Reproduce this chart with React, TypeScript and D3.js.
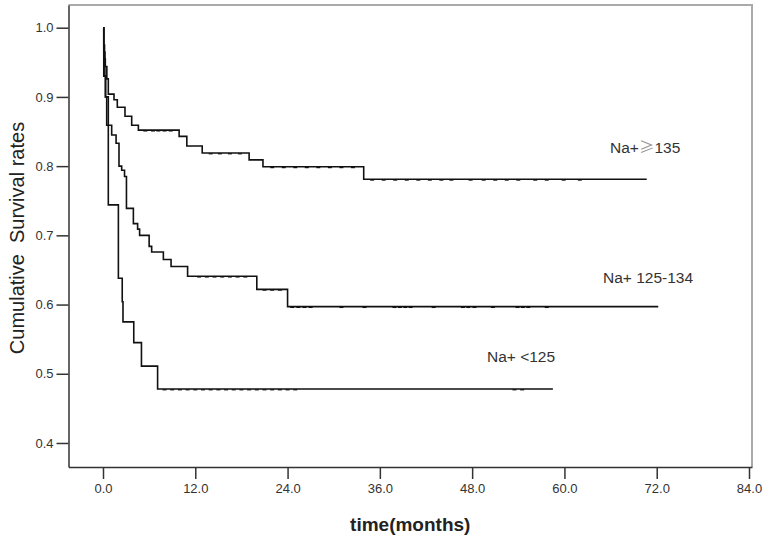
import React, { useEffect, useRef } from 'react';
import * as d3 from 'd3';

// Kaplan-Meier steps (time in months, survival)
const highTimes = [0, 0.1, 0.2, 0.3, 0.5, 0.69, 1.43, 1.86, 2.86, 3.73, 4.6, 9.9, 10.9, 12.9, 19.0, 20.8, 33.9];
const highSurv = [1.0, 0.975, 0.955, 0.944, 0.926, 0.904, 0.896, 0.885, 0.872, 0.859, 0.852, 0.843, 0.829, 0.819, 0.809, 0.799, 0.781];
const highEnd = 70.7;
const highCensor = [5.5, 6.5, 7.2, 8.0, 8.8, 14.0, 15.2, 16.5, 17.8, 22.0, 23.5, 25.0, 26.5, 28.0, 29.5, 31.0, 32.5, 35.0, 36.5, 38.0, 39.5, 41.0, 42.5, 44.0, 45.3, 47.8, 49.5, 51.0, 52.5, 54.0, 56.2, 57.7, 59.9, 62.0];

const midTimes = [0, 0.1, 0.25, 0.35, 0.48, 1.13, 1.7, 2.08, 2.43, 2.8, 3.05, 3.95, 4.5, 4.76, 6.0, 6.33, 7.85, 8.85, 11.0, 20.0, 24.0];
const midSurv = [1.0, 0.965, 0.93, 0.9, 0.859, 0.845, 0.833, 0.8, 0.794, 0.785, 0.739, 0.717, 0.709, 0.7, 0.684, 0.676, 0.665, 0.655, 0.641, 0.622, 0.597];
const midEnd = 72.2;
const midCensor = [12.5, 13.5, 14.5, 15.5, 16.5, 17.5, 18.5, 21.0, 22.0, 23.0, 24.6, 25.4, 26.2, 27.0, 31.0, 34.0, 37.9, 38.6, 39.3, 40.0, 43.0, 46.8, 47.5, 48.3, 50.7, 53.9, 54.6, 55.3, 57.7];

const lowTimes = [0, 0.1, 0.3, 0.69, 2.0, 2.5, 2.6, 4.0, 5.0, 7.1];
const lowSurv = [1.0, 0.93, 0.9, 0.744, 0.638, 0.604, 0.575, 0.545, 0.511, 0.478];
const lowEnd = 58.5;
const lowCensor = [8.0, 9.0, 10.0, 11.0, 12.0, 13.0, 14.0, 15.0, 16.0, 17.0, 18.0, 19.0, 20.0, 21.0, 22.0, 23.0, 24.0, 25.0, 53.5, 54.5];

const xTicks = [0, 12, 24, 36, 48, 60, 72, 84];
const yTicks = [0.4, 0.5, 0.6, 0.7, 0.8, 0.9, 1.0];

const seriesLabels = ['Na+', 'Na+ 125-134', 'Na+ <125'];

const App: React.FC = () => {
  const svgRef = useRef<SVGSVGElement | null>(null);

  useEffect(() => {
    if (!svgRef.current) return;
    const svg = d3.select(svgRef.current);
    svg.selectAll('*').remove();

    const left = 68.5, top = 5, right = 752, bottom = 467;

    const x = d3.scaleLinear().domain([-4.486, 84.39]).range([left, right]);
    const y = d3.scaleLinear().domain([0.3653, 1.0328]).range([bottom, top]);

    // frame: top and right in grey
    svg.append('path')
      .attr('d', `M${left},${top}H${right}V${bottom}`)
      .attr('fill', 'none')
      .attr('stroke', '#aaa')
      .attr('stroke-width', 2);

    const font = 'Arial, "Liberation Sans", sans-serif';

    // y axis
    const yAxis = svg.append('g')
      .attr('transform', `translate(${left},0)`)
      .call(d3.axisLeft(y).tickValues(yTicks).tickFormat(d3.format('.1f')).tickSize(12).tickSizeOuter(0).tickPadding(3));
    yAxis.select('.domain').attr('stroke', '#333').attr('stroke-width', 1.5);
    yAxis.selectAll('.tick line').attr('stroke', '#333').attr('stroke-width', 1.5);
    yAxis.selectAll('.tick text').attr('fill', '#333').style('font', `13px ${font}`);

    // x axis
    const xAxis = svg.append('g')
      .attr('transform', `translate(0,${bottom})`)
      .call(d3.axisBottom(x).tickValues(xTicks).tickFormat(d3.format('.1f')).tickSize(12).tickSizeOuter(0).tickPadding(5));
    xAxis.select('.domain').attr('stroke', '#333').attr('stroke-width', 1.5);
    xAxis.selectAll('.tick line').attr('stroke', '#333').attr('stroke-width', 1.5);
    xAxis.selectAll('.tick text').attr('fill', '#333').style('font', `13px ${font}`);

    // axis titles
    svg.append('text')
      .attr('transform', `translate(24,${(top + bottom) / 2 + 2}) rotate(-90)`)
      .attr('text-anchor', 'middle')
      .attr('fill', '#222')
      .style('font', `20px ${font}`)
      .style('white-space', 'pre')
      .text('Cumulative  Survival rates');

    svg.append('text')
      .attr('x', (left + right) / 2)
      .attr('y', 531)
      .attr('text-anchor', 'middle')
      .attr('fill', '#222')
      .style('font', `bold 19px ${font}`)
      .text('time(months)');

    const line = d3.line<[number, number]>()
      .x(d => x(d[0]))
      .y(d => y(d[1]))
      .curve(d3.curveStepAfter);

    const series = [
      { times: highTimes, surv: highSurv, end: highEnd, censor: highCensor },
      { times: midTimes, surv: midSurv, end: midEnd, censor: midCensor },
      { times: lowTimes, surv: lowSurv, end: lowEnd, censor: lowCensor },
    ];

    series.forEach(s => {
      const pts: [number, number][] = s.times.map((t, i) => [t, s.surv[i]]);
      pts.push([s.end, s.surv[s.surv.length - 1]]);
      svg.append('path')
        .attr('d', line(pts))
        .attr('fill', 'none')
        .attr('stroke', '#111')
        .attr('stroke-width', 1.6);

      const survAt = (t: number) => {
        let v = s.surv[0];
        s.times.forEach((tt, i) => { if (tt <= t) v = s.surv[i]; });
        return v;
      };
      svg.append('g')
        .selectAll('line')
        .data(s.censor)
        .enter()
        .append('line')
        .attr('x1', d => x(d) - 2)
        .attr('x2', d => x(d) + 2)
        .attr('y1', d => y(survAt(d)) + 0.8)
        .attr('y2', d => y(survAt(d)) + 0.8)
        .attr('stroke', '#111')
        .attr('stroke-width', 1.2);
    });

    // curve labels
    const lab1 = svg.append('text')
      .attr('x', 610).attr('y', 153)
      .attr('fill', '#333')
      .style('font', `15.5px ${font}`);
    lab1.append('tspan').text(seriesLabels[0]);
    lab1.append('tspan').attr('fill', '#999').style('font-family', '"Noto Sans CJK SC", sans-serif').text('≥');
    lab1.append('tspan').text('135');

    svg.append('text')
      .attr('x', 603).attr('y', 283)
      .attr('fill', '#333')
      .style('font', `15.5px ${font}`)
      .text(seriesLabels[1]);

    svg.append('text')
      .attr('x', 487).attr('y', 362)
      .attr('fill', '#333')
      .style('font', `15.5px ${font}`)
      .style('white-space', 'pre')
      .text(seriesLabels[2]);
  }, []);

  return (
    <svg
      ref={svgRef}
      width={765}
      height={538}
      style={{ position: 'absolute', left: 0, top: 0, background: '#fff' }}
    />
  );
};

export default App;
